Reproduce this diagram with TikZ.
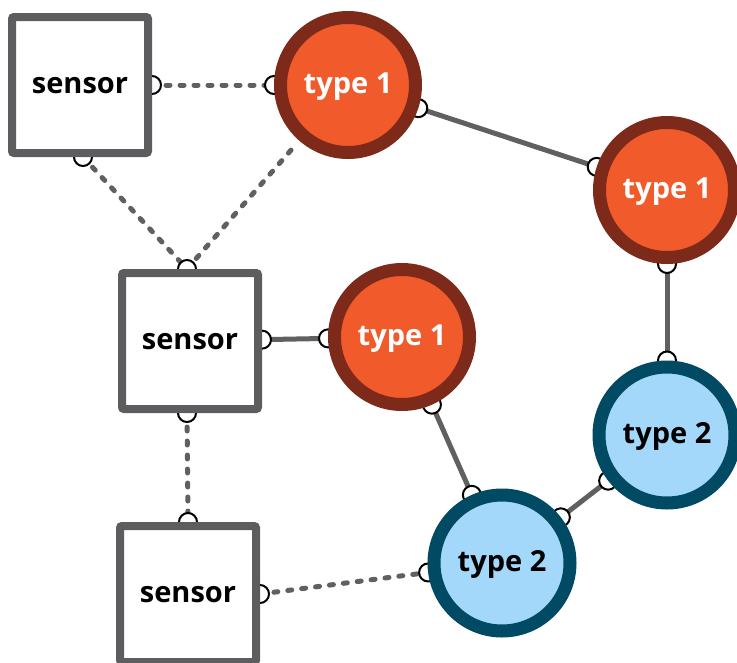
\documentclass[tikz,border=0pt]{standalone}
\usepackage{fontspec}
\setmainfont{Open Sans}
\pgfdeclarelayer{bg}
\pgfsetlayers{bg,main}
\definecolor{tonefill}{HTML}{F15A2B}
\definecolor{toneborder}{HTML}{7E2A1A}
\definecolor{ttwofill}{HTML}{A3D8FB}
\definecolor{ttwoborder}{HTML}{004A63}
\definecolor{sgray}{HTML}{5D5D5F}
\definecolor{lgray}{HTML}{606060}
\tikzset{
  labfont/.style={font=\fontsize{29}{32}\selectfont\bfseries, text height=16pt, text depth=0pt},
  sensorbox/.style={draw=sgray, line width=8pt, fill=white, minimum size=136pt,
    rounded corners=2pt, inner sep=0pt, outer sep=4pt, labfont},
  typeone/.style={circle, draw=toneborder, fill=tonefill, line width=13pt,
    minimum size=135pt, inner sep=0pt, outer sep=6.5pt, text=white, labfont},
  typetwo/.style={circle, draw=ttwoborder, fill=ttwofill, line width=13pt,
    minimum size=136pt, inner sep=0pt, outer sep=6.5pt, text=black, labfont},
  link/.style={draw=lgray, line width=5pt},
  dotlink/.style={draw=lgray, line width=5pt, line cap=round, dash pattern=on 4pt off 10pt},
  socket/.style={draw=black, fill=white, line width=2pt}
}
\begin{document}
\begin{tikzpicture}[x=1pt,y=-1pt]
\useasboundingbox (0,0) rectangle (737,662);
\node[sensorbox] (s1) at (80,85) {sensor};
\node[sensorbox] (s2) at (190,341) {sensor};
\node[sensorbox] (s3) at (188,594) {sensor};
\node[typeone] (t1a) at (348,85) {type 1};
\node[typeone] (t1b) at (667,190) {type 1};
\node[typeone] (t1c) at (402,337) {type 1};
\node[typetwo] (t2a) at (667,435) {type 2};
\node[typetwo] (t2b) at (502,563) {type 2};
\begin{pgfonlayer}{bg}
\draw[dotlink] (s1) -- (t1a) coordinate[pos=0] (k1) coordinate[pos=1] (k2);
\draw[dotlink] ([xshift=3pt]s1.south) -- ([xshift=-3pt]s2.north) coordinate[pos=0] (k3) coordinate[pos=1] (k4);
\draw[dotlink, shorten >=9pt] ([xshift=-3pt]s2.north) -- (t1a);
\draw[link] (t1a) -- (t1b) coordinate[pos=0] (k5) coordinate[pos=1] (k6);
\draw[link] (s2) -- (t1c) coordinate[pos=0] (k7) coordinate[pos=1] (k8);
\draw[dotlink] ([xshift=-3pt]s2.south) -- (s3.north) coordinate[pos=0] (k9) coordinate[pos=1] (k10);
\draw[link] (t1b) -- (t2a) coordinate[pos=0] (k11) coordinate[pos=1] (k12);
\draw[link] (t1c) -- (t2b) coordinate[pos=0] (k13) coordinate[pos=1] (k14);
\draw[link] (t2a) -- (t2b) coordinate[pos=0] (k15) coordinate[pos=1] (k16);
\draw[dotlink] (s3.east) -- (t2b) coordinate[pos=0] (k17) coordinate[pos=1] (k18);
\foreach \k in {k1,k2,k3,k4,k5,k6,k7,k8,k9,k10,k11,k12,k13,k14,k15,k16,k17,k18}
  \draw[socket] (\k) circle[radius=9pt];
\end{pgfonlayer}
\end{tikzpicture}
\end{document}
